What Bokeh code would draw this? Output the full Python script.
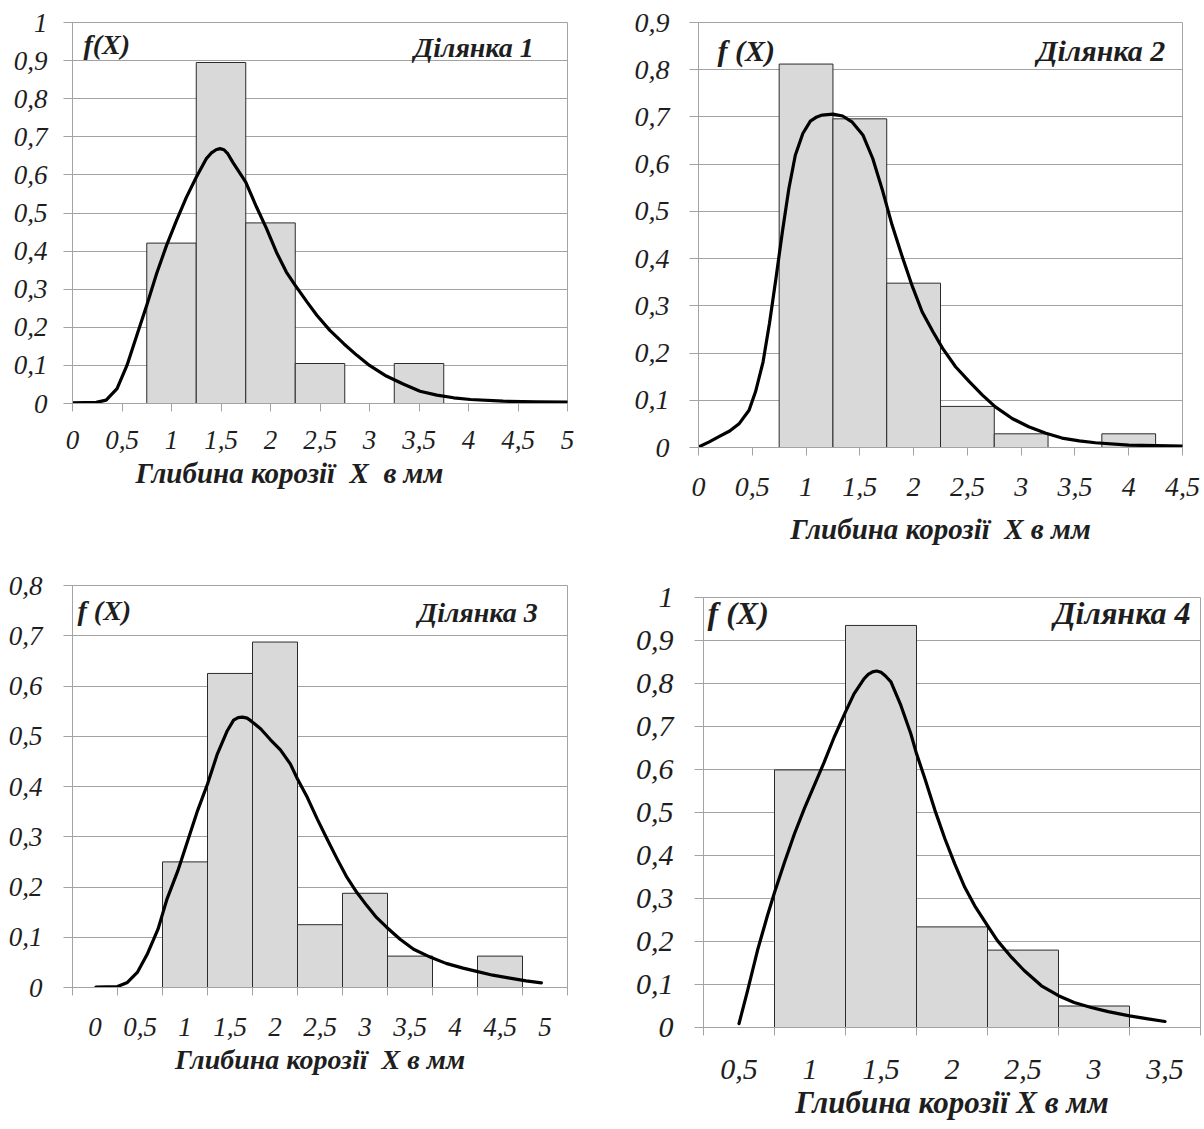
from bokeh.plotting import figure
from bokeh.models import Range1d, FixedTicker, CustomJSTickFormatter, Label, Title
from bokeh.layouts import row, column
from bokeh.embed import file_html
from bokeh.resources import INLINE

# ---------------- data ----------------
# Chart 1 (Ділянка 1)
x1_ticks = [0, 0.5, 1, 1.5, 2, 2.5, 3, 3.5, 4, 4.5, 5]
x1_labels = ["0", "0,5", "1", "1,5", "2", "2,5", "3", "3,5", "4", "4,5", "5"]
y1_ticks = [0, 0.1, 0.2, 0.3, 0.4, 0.5, 0.6, 0.7, 0.8, 0.9, 1.0]
y1_labels = ["0", "0,1", "0,2", "0,3", "0,4", "0,5", "0,6", "0,7", "0,8", "0,9", "1"]
bins1 = [1.0, 1.5, 2.0, 2.5, 3.5]
hist1 = [0.421, 0.895, 0.474, 0.105, 0.105]
curve1_x = [0, 0.24, 0.34, 0.45, 0.55, 0.65, 0.75, 0.85, 0.95, 1.05, 1.15, 1.25, 1.35, 1.40,
            1.45, 1.49, 1.53, 1.57, 1.62, 1.75, 1.86, 1.96, 2.06, 2.16, 2.25, 2.37, 2.47, 2.6,
            2.74, 2.87, 3.0, 3.17, 3.34, 3.51, 3.68, 3.85, 4.02, 4.35, 4.69, 5.0]
curve1_y = [0.002, 0.003, 0.009, 0.039, 0.10, 0.179, 0.258, 0.341, 0.415, 0.48, 0.541, 0.594,
            0.642, 0.657, 0.666, 0.669, 0.666, 0.655, 0.633, 0.581, 0.515, 0.459, 0.397, 0.345,
            0.31, 0.266, 0.231, 0.192, 0.157, 0.127, 0.10, 0.072, 0.051, 0.032, 0.022, 0.015,
            0.0105, 0.006, 0.0045, 0.0035]

# Chart 2 (Ділянка 2)
x2_ticks = [0, 0.5, 1, 1.5, 2, 2.5, 3, 3.5, 4, 4.5]
x2_labels = ["0", "0,5", "1", "1,5", "2", "2,5", "3", "3,5", "4", "4,5"]
y2_ticks = [0, 0.1, 0.2, 0.3, 0.4, 0.5, 0.6, 0.7, 0.8, 0.9]
y2_labels = ["0", "0,1", "0,2", "0,3", "0,4", "0,5", "0,6", "0,7", "0,8", "0,9"]
bins2 = [1.0, 1.5, 2.0, 2.5, 3.0, 4.0]
hist2 = [0.812, 0.696, 0.348, 0.087, 0.029, 0.029]
curve2_x = [0, 0.1, 0.19, 0.29, 0.38, 0.47, 0.53, 0.6, 0.66, 0.72, 0.78, 0.84, 0.9, 0.97, 1.04,
            1.1, 1.15, 1.25, 1.34, 1.43, 1.53, 1.62, 1.71, 1.8, 1.9, 1.99, 2.08, 2.18, 2.27, 2.39,
            2.52, 2.64, 2.76, 2.92, 3.07, 3.23, 3.38, 3.54, 3.69, 4.0, 4.5]
curve2_y = [0.001, 0.012, 0.023, 0.035, 0.051, 0.079, 0.118, 0.181, 0.263, 0.358, 0.457, 0.548,
            0.619, 0.665, 0.691, 0.700, 0.704, 0.706, 0.702, 0.689, 0.661, 0.612, 0.545, 0.471,
            0.40, 0.34, 0.287, 0.245, 0.21, 0.171, 0.139, 0.111, 0.086, 0.061, 0.044, 0.03, 0.02,
            0.014, 0.01, 0.005, 0.003]

# Chart 3 (Ділянка 3)
x3_ticks = [0, 0.5, 1, 1.5, 2, 2.5, 3, 3.5, 4, 4.5, 5]
x3_labels = ["0", "0,5", "1", "1,5", "2", "2,5", "3", "3,5", "4", "4,5", "5"]
x3_bounds = [-0.25, 0.25, 0.75, 1.25, 1.75, 2.25, 2.75, 3.25, 3.75, 4.25, 4.75, 5.25]
y3_ticks = [0, 0.1, 0.2, 0.3, 0.4, 0.5, 0.6, 0.7, 0.8]
y3_labels = ["0", "0,1", "0,2", "0,3", "0,4", "0,5", "0,6", "0,7", "0,8"]
bins3 = [1.0, 1.5, 2.0, 2.5, 3.0, 3.5, 4.5]
hist3 = [0.25, 0.625, 0.6875, 0.125, 0.1875, 0.0625, 0.0625]
curve3_x = [0.01, 0.25, 0.36, 0.47, 0.58, 0.7, 0.75, 0.8, 0.92, 1.03, 1.14, 1.25, 1.36, 1.47,
            1.54, 1.59, 1.64, 1.69, 1.73, 1.84, 1.95, 2.06, 2.17, 2.25, 2.36, 2.47, 2.58, 2.69,
            2.8, 2.91, 3.02, 3.13, 3.24, 3.39, 3.54, 3.73, 3.9, 4.09, 4.24, 4.42, 4.61, 4.79, 4.96]
curve3_y = [0.001, 0.002, 0.01, 0.03, 0.066, 0.116, 0.146, 0.176, 0.232, 0.292, 0.352, 0.405,
            0.465, 0.511, 0.532, 0.537, 0.538, 0.536, 0.531, 0.515, 0.493, 0.473, 0.445, 0.415,
            0.378, 0.335, 0.295, 0.256, 0.219, 0.189, 0.163, 0.139, 0.12, 0.096, 0.076, 0.06,
            0.048, 0.0385, 0.032, 0.0245, 0.0186, 0.0133, 0.0093]

# Chart 4 (Ділянка 4)
x4_ticks = [0.5, 1, 1.5, 2, 2.5, 3, 3.5]
x4_labels = ["0,5", "1", "1,5", "2", "2,5", "3", "3,5"]
x4_bounds = [0.25, 0.75, 1.25, 1.75, 2.25, 2.75, 3.25, 3.75]
y4_ticks = [0, 0.1, 0.2, 0.3, 0.4, 0.5, 0.6, 0.7, 0.8, 0.9, 1.0]
y4_labels = ["0", "0,1", "0,2", "0,3", "0,4", "0,5", "0,6", "0,7", "0,8", "0,9", "1"]
bins4 = [1.0, 1.5, 2.0, 2.5, 3.0]
hist4 = [0.599, 0.935, 0.234, 0.180, 0.050]
curve4_x = [0.5, 0.56, 0.63, 0.7, 0.75, 0.82, 0.89, 0.96, 1.03, 1.1, 1.17, 1.25, 1.31, 1.38,
            1.41, 1.44, 1.47, 1.5, 1.53, 1.57, 1.64, 1.71, 1.75, 1.81, 1.88, 1.95, 2.02, 2.09,
            2.16, 2.25, 2.32, 2.42, 2.51, 2.63, 2.75, 2.86, 2.98, 3.1, 3.25, 3.38, 3.5]
curve4_y = [0.009, 0.085, 0.179, 0.26, 0.314, 0.384, 0.45, 0.509, 0.563, 0.617, 0.675, 0.734,
            0.776, 0.811, 0.821, 0.827, 0.829, 0.826, 0.818, 0.804, 0.749, 0.683, 0.637, 0.578,
            0.505, 0.439, 0.38, 0.326, 0.283, 0.237, 0.202, 0.163, 0.132, 0.097, 0.074, 0.058,
            0.0466, 0.037, 0.027, 0.020, 0.014]

# ---------------- style ----------------
GRID = "#a3a3a3"
TXT = "#1e1e1e"
FONT = "Liberation Serif"
NB = "\u00a0"

FMT_CODE = """
for (let i = 0; i < tvals.length; i++) {
    if (Math.abs(tvals[i] - tick) < 1e-9) { return tlabels[i]; }
}
return "";
"""


def make_chart(width, height, borders, sizes, xr, yr, xt, xl, yt, yl, xminor, bins, hist,
               cx, cy, fx_text, fx_pos, region_text, region_pos, xtitle, title_offset,
               x_std, t_std, y_std):
    L, R, T, B = borders
    tick_size, title_size, label_size = sizes
    p = figure(width=width, height=height, output_backend="svg", toolbar_location=None,
               x_range=Range1d(*xr), y_range=Range1d(*yr), frame_align=False,
               min_border_left=L, min_border_right=R, min_border_top=T, min_border_bottom=B)
    p.background_fill_color = "white"
    p.border_fill_color = "white"
    p.outline_line_color = GRID
    p.outline_line_width = 1

    p.xaxis.ticker = FixedTicker(ticks=xt, minor_ticks=xminor if xminor else [])
    p.xaxis.formatter = CustomJSTickFormatter(args=dict(tvals=xt, tlabels=xl), code=FMT_CODE)
    p.yaxis.ticker = FixedTicker(ticks=yt)
    p.yaxis.formatter = CustomJSTickFormatter(args=dict(tvals=yt, tlabels=yl), code=FMT_CODE)

    for ax in (p.xaxis[0], p.yaxis[0]):
        ax.axis_line_color = GRID
        ax.major_tick_line_color = GRID
        ax.major_tick_in = 0
        ax.minor_tick_in = 0
        ax.major_label_text_font = FONT
        ax.major_label_text_font_style = "italic"
        ax.major_label_text_font_size = f"{tick_size}px"
        ax.major_label_text_color = TXT

    p.yaxis.major_tick_out = 9
    p.yaxis.minor_tick_line_color = None
    p.yaxis.major_label_standoff = y_std

    if xminor:
        p.xaxis.major_tick_out = 0
        p.xaxis.major_tick_line_color = None
        p.xaxis.minor_tick_out = 8
        p.xaxis.minor_tick_line_color = GRID
    else:
        p.xaxis.major_tick_out = 8
        p.xaxis.minor_tick_line_color = None
    p.xaxis.major_label_standoff = x_std

    if title_offset is None:
        p.xaxis.axis_label = xtitle
        p.xaxis.axis_label_text_font = FONT
        p.xaxis.axis_label_text_font_style = "bold italic"
        p.xaxis.axis_label_text_font_size = f"{title_size}px"
        p.xaxis.axis_label_text_color = TXT
        p.xaxis.axis_label_standoff = t_std
    else:
        p.add_layout(Title(text=xtitle, align="left", offset=title_offset, standoff=t_std,
                           text_font=FONT, text_font_style="bold italic",
                           text_font_size=f"{title_size}px", text_color=TXT), "below")

    p.xgrid.visible = False
    p.ygrid.grid_line_color = GRID
    p.ygrid.grid_line_width = 1

    p.vbar(x=bins, width=0.5, top=hist, bottom=0, fill_color="#d9d9d9",
           line_color="#2b2b2b", line_width=1)
    p.line(cx, cy, line_color="black", line_width=3.2, line_join="round", line_cap="round")

    p.add_layout(Label(x=fx_pos[0], y=fx_pos[1], text=fx_text, text_font=FONT,
                       text_font_style="bold italic", text_font_size=f"{label_size}px",
                       text_color=TXT, text_align="left", text_baseline="middle"))
    p.add_layout(Label(x=region_pos[0], y=region_pos[1], text=region_text, text_font=FONT,
                       text_font_style="bold italic", text_font_size=f"{label_size}px",
                       text_color=TXT, text_align="right", text_baseline="middle"))
    return p


p1 = make_chart(600, 565, (72, 33, 22, 162), (27, 29, 28), (0, 5), (0, 1),
                x1_ticks, x1_labels, y1_ticks, y1_labels, None, bins1, hist1, curve1_x, curve1_y,
                "f(X)", (0.11, 0.942), "Ділянка 1", (4.66, 0.934),
                "Глибина корозії" + NB + " X" + NB + " в мм", 63, 19, 7, 16)
p2 = make_chart(603, 565, (98, 21, 22, 118), (28, 29, 30), (0, 4.5), (0, 0.9),
                x2_ticks, x2_labels, y2_ticks, y2_labels, None, bins2, hist2, curve2_x, curve2_y,
                "f (X)", (0.177, 0.841), "Ділянка 2", (4.34, 0.841),
                "Глибина корозії" + NB + " X в мм", None, 22, 14, 20)
p3 = make_chart(600, 564, (72, 33, 20, 142), (27, 28, 28), (-0.25, 5.25), (0, 0.8),
                x3_ticks, x3_labels, y3_ticks, y3_labels, x3_bounds, bins3, hist3, curve3_x,
                curve3_y, "f (X)", (-0.194, 0.75), "Ділянка 3", (4.92, 0.746),
                "Глибина корозії" + NB + " X в мм", None, 22, 5, 21)
p4 = make_chart(603, 564, (103, 3, 32, 102), (30, 31, 32), (0.25, 3.75), (0, 1),
                x4_ticks, x4_labels, y4_ticks, y4_labels, x4_bounds, bins4, hist4, curve4_x,
                curve4_y, "f (X)", (0.278, 0.963), "Ділянка 4", (3.68, 0.963),
                "Глибина корозії X в мм", None, 24, 3, 21)

layout = row(column(p1, p3), column(p2, p4))

open("out.html", "w").write(file_html(layout, INLINE))
